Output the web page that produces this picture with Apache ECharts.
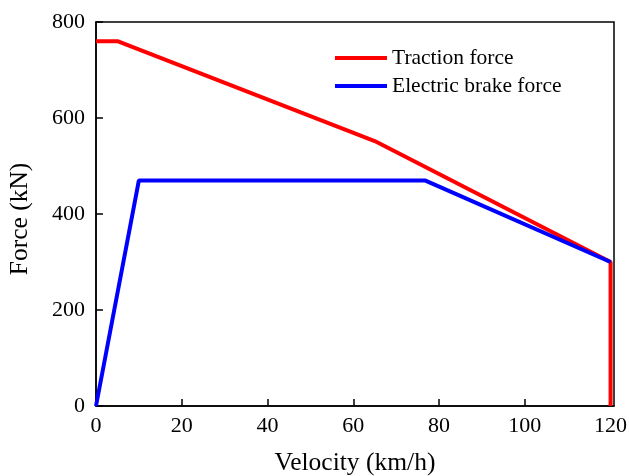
<!DOCTYPE html>
<html>
<head>
<meta charset="utf-8">
<script src="https://cdn.jsdelivr.net/npm/echarts@6/dist/echarts.min.js"></script>
<style>
    html,body{margin:0;padding:0;background:#fff;}
    #chart{width:629px;height:476px;}
</style>
</head>
<body>
<div id="chart"></div>
<script>
// velocity (km/h) and force (kN)
var tractionVelocity = [0, 5, 65, 120, 120];
var tractionForce = [760, 760, 552, 300, 0];
var brakeVelocity = [0, 10, 76.7, 120];
var brakeForce = [0, 470, 470, 300];
var seriesNames = ['Traction force', 'Electric brake force'];

var toPairs = function (xs, ys) {
    return xs.map(function (x, i) { return [x, ys[i]]; });
};

var font = '"Liberation Serif", "Times New Roman", serif';

var dom = document.getElementById('chart');
var myChart = echarts.init(dom, null, {renderer: 'canvas'});

var option = {
    animation: false,
    grid: {
        left: 96, right: 15, top: 22, bottom: 70,
        outerBoundsMode: 'none',
        containLabel: false,
        show: true,
        borderColor: '#000',
        borderWidth: 1.5
    },
    legend: {
        orient: 'vertical',
        left: 330,
        top: 42,
        itemWidth: 52,
        itemHeight: 4,
        itemGap: 6,
        icon: 'rect',
        textStyle: {fontFamily: font, fontSize: 21.5, color: '#000', padding: [0, 0, 0, 0]},
        data: seriesNames
    },
    xAxis: {
        type: 'value',
        min: 0,
        max: 120.8,
        interval: 20,
        name: 'Velocity (km/h)',
        nameLocation: 'middle',
        nameGap: 44,
        nameTextStyle: {fontFamily: font, fontSize: 25.5, color: '#000'},
        axisLine: {show: true, lineStyle: {color: '#000', width: 1.5}},
        axisTick: {show: true, inside: true, length: 7, lineStyle: {color: '#000', width: 1.5}},
        axisLabel: {
            fontFamily: font, fontSize: 22, color: '#000', margin: 9,
            showMaxLabel: false,
            formatter: function (v) { return v % 20 === 0 ? v : ''; }
        },
        splitLine: {show: false}
    },
    yAxis: {
        type: 'value',
        min: 0,
        max: 800,
        interval: 200,
        name: 'Force (kN)',
        nameLocation: 'middle',
        nameGap: 63,
        nameRotate: 90,
        nameTextStyle: {fontFamily: font, fontSize: 25.5, color: '#000', padding: [0, 10, 0, 0]},
        axisLine: {show: true, lineStyle: {color: '#000', width: 1.5}},
        axisTick: {show: true, inside: true, length: 7, lineStyle: {color: '#000', width: 1.5}},
        axisLabel: {fontFamily: font, fontSize: 22, color: '#000', margin: 11},
        splitLine: {show: false}
    },
    series: [
        {
            name: seriesNames[0],
            type: 'line',
            data: toPairs(tractionVelocity, tractionForce),
            symbol: 'none',
            color: '#ff0000',
            lineStyle: {color: '#ff0000', width: 4}
        },
        {
            name: seriesNames[1],
            type: 'line',
            data: toPairs(brakeVelocity, brakeForce),
            symbol: 'none',
            color: '#0000ff',
            lineStyle: {color: '#0000ff', width: 4}
        }
    ]
};

myChart.setOption(option);
window.addEventListener('resize', myChart.resize);
</script>
</body>
</html>
